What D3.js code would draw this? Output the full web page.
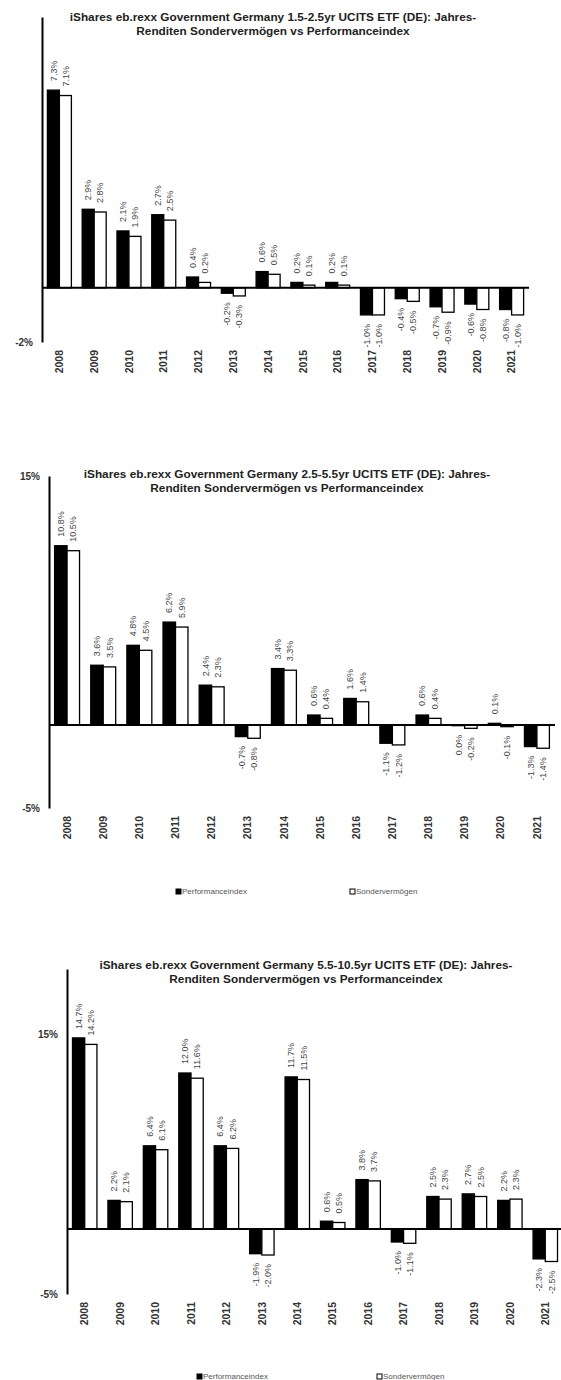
<!DOCTYPE html>
<html>
<head>
<meta charset="utf-8">
<script src="https://cdn.jsdelivr.net/npm/d3@7"></script>
<style>
  body { margin: 0; background: #fff; }
  svg { display: block; font-family: "Liberation Sans", Arial, sans-serif; }
  .title { font-size: 11.8px; font-weight: bold; fill: #222; }
  .value { font-size: 9px; fill: #444; }
  .axis--y text { font-size: 10px; font-weight: bold; fill: #333; }
  .axis--x text { font-size: 10.5px; font-weight: bold; fill: #333; }
  .legend { font-size: 8px; fill: #555; }
</style>
</head>
<body>
<svg id="chart"></svg>
<script>
const years = ['2008', '2009', '2010', '2011', '2012', '2013', '2014',
  '2015', '2016', '2017', '2018', '2019', '2020', '2021'];

// 1.5-2.5yr
const perfShort = [7.3, 2.9, 2.1, 2.7, 0.4, -0.2, 0.6, 0.2, 0.2, -1.0, -0.4, -0.7, -0.6, -0.8];
const fundShort = [7.1, 2.8, 1.9, 2.5, 0.2, -0.3, 0.5, 0.1, 0.1, -1.0, -0.5, -0.9, -0.8, -1.0];
const ticksShort = [-2];

// 2.5-5.5yr
const perfMid = [10.8, 3.6, 4.8, 6.2, 2.4, -0.7, 3.4, 0.6, 1.6, -1.1, 0.6, -0.04, 0.1, -1.3];
const fundMid = [10.5, 3.5, 4.5, 5.9, 2.3, -0.8, 3.3, 0.4, 1.4, -1.2, 0.4, -0.2, -0.1, -1.4];
const ticksMid = [-5, 15];

// 5.5-10.5yr
const perfLong = [14.7, 2.2, 6.4, 12.0, 6.4, -1.9, 11.7, 0.6, 3.8, -1.0, 2.5, 2.7, 2.2, -2.3];
const fundLong = [14.2, 2.1, 6.1, 11.6, 6.2, -2.0, 11.5, 0.5, 3.7, -1.1, 2.3, 2.5, 2.3, -2.5];
const ticksLong = [-5, 15];

const seriesNames = ['Performanceindex', 'Sondervermögen'];

const titleTail = 'Renditen Sondervermögen vs Performanceindex';

const charts = [
  {
    title: ['iShares eb.rexx Government Germany 1.5-2.5yr UCITS ETF (DE): Jahres-', titleTail],
    perf: perfShort, fund: fundShort, domain: [-2, 10], ticks: ticksShort,
    top: 17, bottom: 342, left: 42, right: 529, titleX: 273, titleY: 21, legendY: null,
  },
  {
    title: ['iShares eb.rexx Government Germany 2.5-5.5yr UCITS ETF (DE): Jahres-', titleTail],
    perf: perfMid, fund: fundMid, domain: [-5, 15], ticks: ticksMid,
    top: 476, bottom: 808, left: 49, right: 555, titleX: 287, titleY: 478,
    legendY: 892, legendX: [176, 350],
  },
  {
    title: ['iShares eb.rexx Government Germany 5.5-10.5yr UCITS ETF (DE): Jahres-', titleTail],
    perf: perfLong, fund: fundLong, domain: [-5, 20], ticks: ticksLong,
    top: 969, bottom: 1294, left: 67, right: 563, titleX: 306, titleY: 969,
    legendY: 1377, legendX: [197, 377],
  },
];

const fmt = v => (Math.abs(v) < 0.05 ? 0 : v).toFixed(1) + '%';

const svg = d3.select('#chart')
  .attr('width', 561)
  .attr('height', 1380);

const drawChart = (c) => {
  const g = svg.append('g');

  const x = d3.scaleBand()
    .domain(years)
    .range([c.left, c.right])
    .paddingInner(0.31)
    .paddingOuter(0.155);
  const sub = d3.scaleBand()
    .domain(['perf', 'fund'])
    .range([0, x.bandwidth()]);
  const y = d3.scaleLinear()
    .domain(c.domain)
    .range([c.bottom, c.top]);

  const rows = years.map((year, i) => ({ year, perf: c.perf[i], fund: c.fund[i] }));

  // title
  g.append('text')
    .attr('class', 'title')
    .attr('text-anchor', 'middle')
    .selectAll('tspan')
    .data(c.title)
    .enter().append('tspan')
      .attr('x', c.titleX)
      .attr('y', (d, i) => c.titleY + i * 13.5)
      .text(d => d);

  const group = g.selectAll('.group')
    .data(rows)
    .enter().append('g')
      .attr('class', 'group')
      .attr('transform', d => `translate(${x(d.year)},0)`);

  const cells = group.selectAll('.cell')
    .data(d => ['perf', 'fund'].map(key => ({ key, value: d[key] })))
    .enter();

  cells.append('rect')
    .attr('x', d => sub(d.key))
    .attr('width', sub.bandwidth())
    .attr('y', d => y(Math.max(0, d.value)))
    .attr('height', d => Math.abs(y(d.value) - y(0)))
    .attr('fill', d => d.key === 'perf' ? '#000' : '#fff')
    .attr('stroke', '#000')
    .attr('stroke-width', 1.3);

  cells.append('text')
    .attr('class', 'value')
    .attr('transform', d => {
      const cx = sub(d.key) + sub.bandwidth() / 2;
      const cy = d.value >= 0 ? y(d.value) - 9 : y(d.value) + 9;
      return `translate(${cx},${cy}) rotate(-90)`;
    })
    .attr('text-anchor', d => d.value >= 0 ? 'start' : 'end')
    .attr('dy', '0.35em')
    .text(d => fmt(d.value));

  // zero line
  g.append('line')
    .attr('x1', c.left)
    .attr('x2', c.right)
    .attr('y1', y(0))
    .attr('y2', y(0))
    .attr('stroke', '#000')
    .attr('stroke-width', 2);

  // y axis
  const yAxis = g.append('g')
    .attr('class', 'axis axis--y')
    .attr('transform', `translate(${c.left},0)`)
    .call(d3.axisLeft(y)
      .tickValues(c.ticks)
      .tickSize(0)
      .tickSizeOuter(0)
      .tickPadding(9)
      .tickFormat(d => d + '%'));
  yAxis.select('.domain').attr('stroke', '#000').attr('stroke-width', 2);

  // year labels
  const xAxis = g.append('g')
    .attr('class', 'axis axis--x')
    .attr('transform', `translate(0,${c.bottom})`)
    .call(d3.axisBottom(x).tickSize(0));
  xAxis.select('.domain').remove();
  xAxis.selectAll('text')
    .attr('transform', 'rotate(-90)')
    .attr('text-anchor', 'end')
    .attr('x', -8)
    .attr('y', 0)
    .attr('dy', '0.35em');

  // legend
  if (c.legendY !== null) {
    const item = g.selectAll('.legend-item')
      .data(seriesNames)
      .enter().append('g')
        .attr('class', 'legend-item')
        .attr('transform', (d, i) => `translate(${c.legendX[i]},${c.legendY})`);
    item.append('rect')
      .attr('x', 0)
      .attr('y', -3)
      .attr('width', 5)
      .attr('height', 5)
      .attr('fill', (d, i) => i === 0 ? '#000' : '#fff')
      .attr('stroke', '#000')
      .attr('stroke-width', 1);
    item.append('text')
      .attr('class', 'legend')
      .attr('x', 6)
      .attr('dy', '0.3em')
      .text(d => d);
  }
};

charts.forEach(drawChart);
</script>
</body>
</html>
